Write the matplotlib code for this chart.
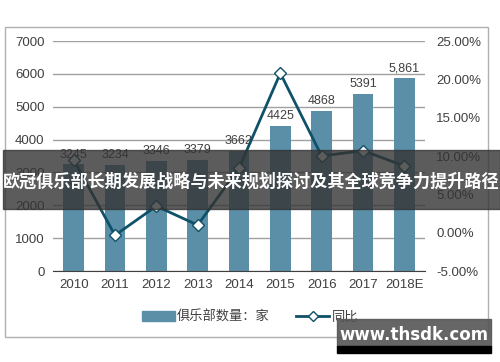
import matplotlib
matplotlib.use("Agg")
import matplotlib.pyplot as plt
from matplotlib.lines import Line2D
from matplotlib.patches import Patch, Rectangle

plt.rcParams['font.family'] = ['Liberation Sans', 'Noto Sans CJK SC', 'DejaVu Sans']

# 数据
years = ['2010', '2011', '2012', '2013', '2014', '2015', '2016', '2017', '2018E']
clubs = [3245, 3234, 3346, 3379, 3662, 4425, 4868, 5391, 5861]
labels = ['3245', '3234', '3346', '3379', '3662', '4425', '4868', '5391', '5,861']
yoy = [9.5, -0.34, 3.46, 0.99, 8.4, 20.8, 10.0, 10.7, 8.7]

bar_color = '#5b8fa8'
line_color = '#0f5168'
txt = '#404040'

fig = plt.figure(figsize=(5, 3.62), dpi=100)
ax = fig.add_axes([53/500, 1-271/362, 372/500, 230/362])
ax2 = ax.twinx()

x = range(len(years))
ax.bar(x, clubs, width=0.5, color=bar_color, zorder=2)
for i, v in enumerate(clubs):
    ax.text(i, v + 110, labels[i], ha='center', va='bottom', fontsize=9, color=txt)

ax.set_ylim(0, 7000)
ax.set_xlim(-0.5, len(years) - 0.5)
ax.set_yticks(range(0, 7001, 1000))
ax.grid(axis='y', color='#a0a0a0', linewidth=1, zorder=0)
ax.set_axisbelow(True)
ax.set_xticks(list(x))
ax.set_xticklabels(years)
ax.tick_params(axis='both', length=0, labelsize=9.5, labelcolor=txt, pad=6)
for s in ['top', 'right', 'left']:
    ax.spines[s].set_visible(False)
ax.spines['bottom'].set_color('#404040')

ax2.plot(x, yoy, color=line_color, linewidth=2, marker='D', markersize=6,
         markerfacecolor='white', markeredgecolor=line_color, zorder=3)
ax2.set_ylim(-5, 25)
ax2.set_yticks(range(-5, 26, 5))
ax2.set_yticklabels(['%.2f%%' % t for t in range(-5, 26, 5)])
ax2.tick_params(axis='y', length=0, labelsize=9.5, labelcolor=txt, pad=8)
for s in ax2.spines.values():
    s.set_visible(False)

# 外框
fig.patches.append(Rectangle((5/500, 1-337/362), 483/500, 310/362, transform=fig.transFigure,
                             fill=False, edgecolor='#b0b0b0', linewidth=1))

handles = [Patch(color=bar_color),
           Line2D([], [], color=line_color, linewidth=2, marker='D', markersize=5,
                  markerfacecolor='white', markeredgecolor=line_color)]
fig.legend(handles, ['俱乐部数量：家', '同比'], loc='center', bbox_to_anchor=(0.5, 1-317/362),
           ncol=2, frameon=False, fontsize=9.5, handlelength=2.5, columnspacing=2,
           labelcolor=txt, handletextpad=0.2)

# 标题横幅
fig.patches.append(Rectangle((3/500, 1-209/362), 497/500, 59/362, transform=fig.transFigure,
                             color='#333333', alpha=0.8, zorder=10))
fig.text(0.503, 1-182/362, '欧冠俱乐部长期发展战略与未来规划探讨及其全球竞争力提升路径',
         ha='center', va='center', color='white', fontsize=12.3, fontweight='bold',
         family=['Noto Sans CJK SC', 'DejaVu Sans'], zorder=11)

# 水印
fig.patches.append(Rectangle((337/500, 1-346/362), 154/500, 27/362, transform=fig.transFigure,
                             color='#555555', alpha=0.9, zorder=10))
fig.patches.append(Rectangle((337/500, 1-353/362), 154/500, 7/362, transform=fig.transFigure,
                             color='black', zorder=10))
fig.text(414/500, 1-335/362, 'www.thsdk.com', ha='center', va='center', color='white',
         fontsize=12, fontweight='bold', family=['DejaVu Sans'], zorder=11)

plt.savefig('out.png', dpi=100)
